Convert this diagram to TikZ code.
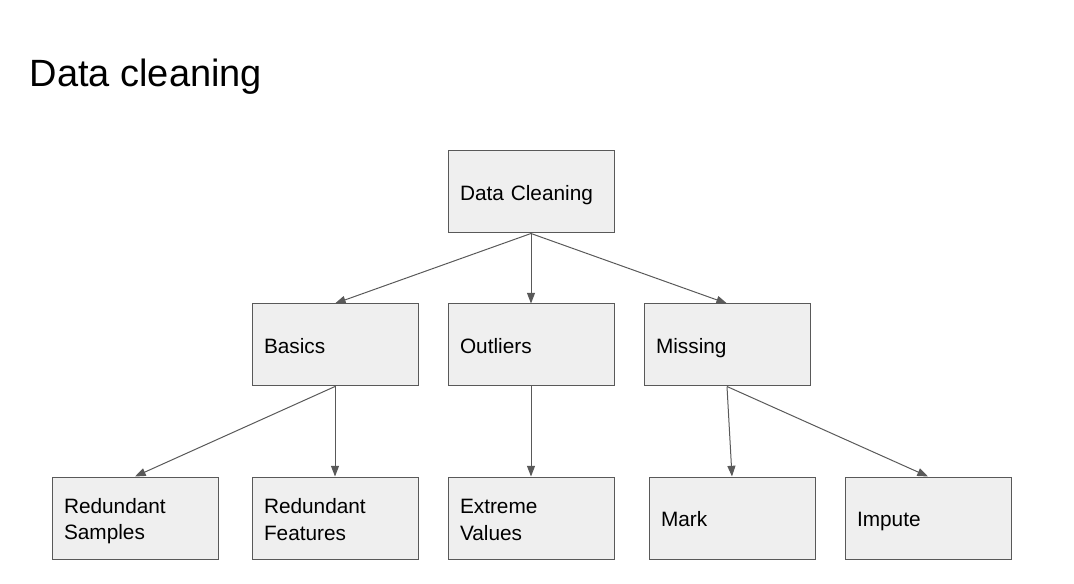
\documentclass[tikz,border=0pt]{standalone}
\usepackage{fontspec}
\setmainfont{Liberation Sans}
\usepackage{xcolor}
\usetikzlibrary{arrows.meta, positioning}

\definecolor{boxfill}{HTML}{EFEFEF}
\definecolor{edgegray}{HTML}{595959}
\newcommand{\boxstrut}{\rule[-3pt]{0pt}{19.3pt}}

\tikzset{
    task/.style = {draw=edgegray, fill=boxfill, line width=0.75pt,
        text width=106.5pt, inner xsep=9pt, inner ysep=0pt,
        minimum height=61.5pt, align=left,
        font=\fontsize{15.6}{19.9}\selectfont,
        execute at begin node=\boxstrut, execute at end node=\boxstrut},
    link/.style = {color=edgegray, line width=0.75pt,
        -{Triangle[length=8pt, width=6pt]}}
}

\begin{document}
\begin{tikzpicture}[x=0.75pt, y=-0.75pt]
    \useasboundingbox (0,0) rectangle (1074,584);
    \node (title) [anchor=base west, inner sep=0pt, font=\fontsize{28.5}{34}\selectfont] at (29.5,87) {Data cleaning};
    % tree
    \node (root) [task] at (531,192) {Data Cleaning};
    \node (outliers) [task, below = 52.5pt of root] {Outliers};
    \node (basics) [task, left = 21.75pt of outliers] {Basics};
    \node (missing) [task, right = 21.75pt of outliers] {Missing};
    \node (extreme) [task, below = 67.5pt of outliers] {Extreme\\Values};
    \node (features) [task, left = 21.75pt of extreme] {Redundant\\Features};
    \node (samples) [task, left = 24.75pt of features] {Redundant\\Samples};
    \node (mark) [task, right = 25.5pt of extreme] {Mark};
    \node (impute) [task, right = 21.75pt of mark] {Impute};
    \path [link]
    (root.south) edge (basics.north)
    (root.south) edge (outliers.north)
    (root.south) edge (missing.north)
    (basics.south) edge (samples.north)
    (basics.south) edge (features.north)
    (outliers.south) edge (extreme.north)
    (missing.south) edge (mark.north)
    (missing.south) edge (impute.north);
\end{tikzpicture}
\end{document}
